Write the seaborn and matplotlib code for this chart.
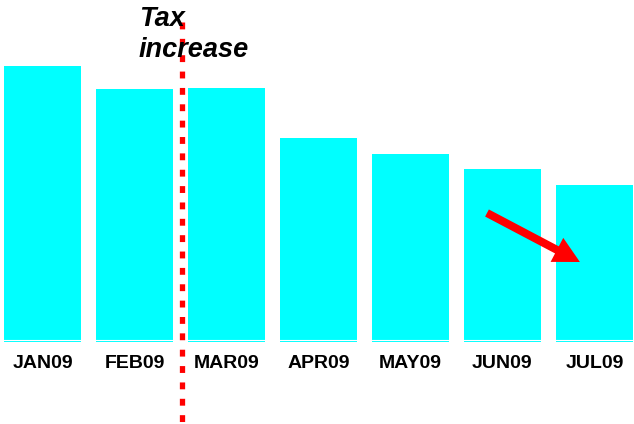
import matplotlib
matplotlib.use("Agg")
import matplotlib.pyplot as plt
import seaborn as sns
import pandas as pd

months = ["JAN09", "FEB09", "MAR09", "APR09", "MAY09", "JUN09", "JUL09"]
sales = [276, 253, 254, 204, 188, 173, 157]

sns.set_theme(style="white")
plt.rcParams["font.family"] = ["Liberation Sans", "DejaVu Sans"]

df = pd.DataFrame({"month": months, "sales": sales})

fig = plt.figure(figsize=(6.34, 4.24), dpi=100)
ax = fig.add_axes([0, 1 - 342 / 424, 1, 342 / 424])

sns.barplot(data=df, x="month", y="sales", color="#00FFFF", saturation=1,
            width=0.83, linewidth=0, ax=ax)

# thin white rule just above the bar base
ax.axhline(1.6, color="white", lw=0.8, zorder=3)

ax.set_xlim(-0.462, 6.43)
ax.set_ylim(0, 342)
ax.set_xlabel("")
ax.set_ylabel("")
ax.set_yticks([])
ax.tick_params(axis="x", length=0, pad=9)
for lab in ax.get_xticklabels():
    lab.set_fontweight("bold")
    lab.set_fontsize(14)
    lab.set_color("black")
for s in ax.spines.values():
    s.set_visible(False)

# dotted marker for the tax change
event_x = 1.516
ax.plot([event_x, event_x], [320, -84], color="#FF0000", lw=3.8,
        dashes=(1.3, 1.8), dash_capstyle="butt", clip_on=False, zorder=4)
label_style = dict(ha="left", va="baseline", fontsize=19.5, fontweight="bold",
                   fontstyle="italic", color="black", zorder=5)
ax.text(1.05, 316, "Tax", **label_style)
ax.text(1.04, 285, "increase", **label_style)

# downward trend arrow
ax.annotate("", xy=(5.842, 80), xytext=(4.832, 129),
            arrowprops=dict(arrowstyle="simple,head_length=1.1,head_width=1.15,tail_width=0.34",
                            mutation_scale=17, facecolor="#FF0000",
                            edgecolor="none", lw=0, shrinkA=0, shrinkB=0),
            zorder=6)

fig.savefig("out.png", dpi=100)
